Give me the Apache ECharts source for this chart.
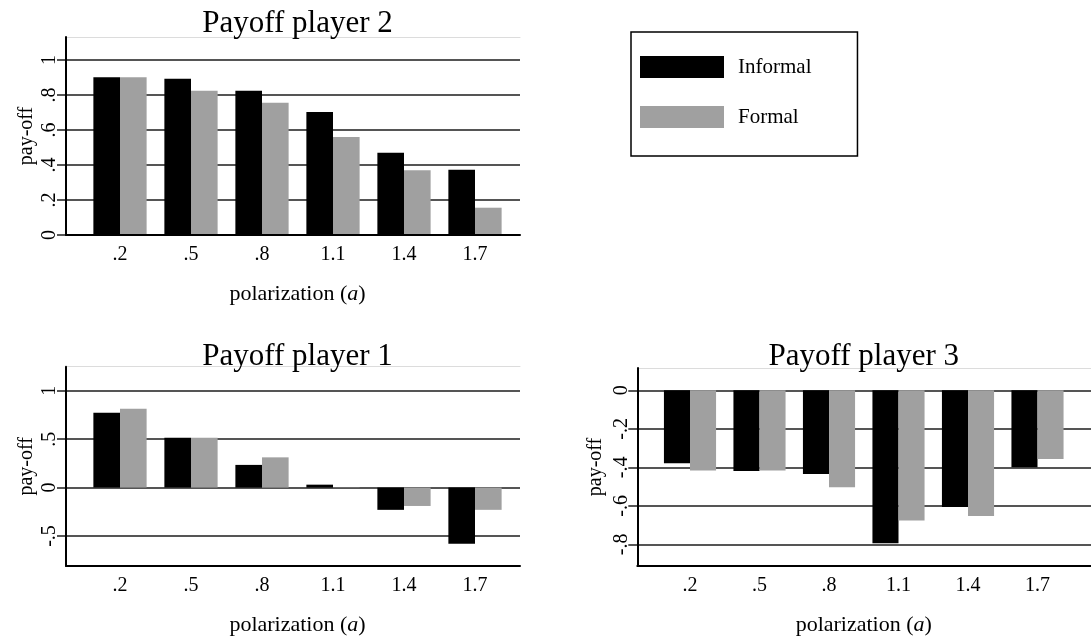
<!DOCTYPE html>
<html><head><meta charset="utf-8">
<script src="https://cdn.jsdelivr.net/npm/echarts@6/dist/echarts.min.js"></script>
<style>html,body{margin:0;padding:0;background:#fff}#c{width:1091px;height:637px}</style>
</head><body><div id="c"></div>
<script>
const categories = ['.2', '.5', '.8', '1.1', '1.4', '1.7'];
const seriesNames = ['Informal', 'Formal'];
const p2Informal = [0.901, 0.893, 0.825, 0.703, 0.470, 0.373];
const p2Formal   = [0.901, 0.825, 0.756, 0.560, 0.370, 0.156];
const p1Informal = [0.773, 0.515, 0.234, 0.030, -0.230, -0.580];
const p1Formal   = [0.814, 0.515, 0.312, 0.003, -0.190, -0.230];
const p3Informal = [-0.379, -0.419, -0.435, -0.795, -0.606, -0.400];
const p3Formal   = [-0.416, -0.416, -0.504, -0.677, -0.653, -0.357];
const p2Ticks = [0, 0.2, 0.4, 0.6, 0.8, 1];
const p1Ticks = [-0.5, 0, 0.5, 1];
const p3Ticks = [-0.8, -0.6, -0.4, -0.2, 0];
const titles = ['Payoff player 2', 'Payoff player 1', 'Payoff player 3'];

const FONT = '"Liberation Serif", "DejaVu Serif", serif';
const COLORS = ['#000000', '#a0a0a0'];

// layout (pixels)
const panels = [
  {title: titles[0], inf: p2Informal, frm: p2Formal, ticks: p2Ticks,
   oL: 66, oT: 37, oR: 520, oB: 235, tT: 60, tB: 235, bL: 84.5, bW: 426, tY: 8, cx: 297.5, ng: 29},
  {title: titles[1], inf: p1Informal, frm: p1Formal, ticks: p1Ticks,
   oL: 66, oT: 366.7, oR: 520, oB: 566, tT: 390.7, tB: 536, bL: 84.5, bW: 426, tY: 341, cx: 297.5, ng: 29},
  {title: titles[2], inf: p3Informal, frm: p3Formal, ticks: p3Ticks,
   oL: 637.3, oT: 368, oR: 1091, oB: 566, tT: 390.3, tB: 544.3, bL: 655.25, bW: 417, tY: 341, cx: 863.75, ng: 32}
];

function fmt(v) {
  const r = Math.round(v * 100) / 100;
  if (r === 0) return '0';
  return String(r).replace(/^(-?)0\./, '$1.');
}

const grid = [], xAxis = [], yAxis = [], series = [], title = [];
panels.forEach((p, i) => {
  const tMin = p.ticks[0], tMax = p.ticks[p.ticks.length - 1];
  const step = p.ticks[1] - p.ticks[0];
  const ppu = (p.tB - p.tT) / (tMax - tMin);
  const yMax = tMax + (p.tT - p.oT) / ppu;
  const yMin = tMin - (p.oB - p.tB) / ppu;
  grid.push({left: p.oL, top: p.oT, width: p.oR - p.oL, height: p.oB - p.oT, containLabel: false});
  grid.push({left: p.oL, top: p.tT, width: p.oR - p.oL, height: p.tB - p.tT, containLabel: false});
  grid.push({left: p.bL, top: p.oT, width: p.bW, height: p.oB - p.oT, containLabel: false});
  const g0 = 3 * i;
  xAxis.push({gridIndex: g0, type: 'category', data: categories, position: 'bottom', z: 5,
    axisLine: {show: true, onZero: false, lineStyle: {color: '#000', width: 2}},
    axisTick: {show: false}, axisLabel: {show: false}, splitLine: {show: false}});
  xAxis.push({gridIndex: g0, type: 'category', data: categories, position: 'top', z: 1,
    axisLine: {show: true, onZero: false, lineStyle: {color: '#dcdcdc', width: 1}},
    axisTick: {show: false}, axisLabel: {show: false}, splitLine: {show: false}});
  xAxis.push({gridIndex: g0 + 1, type: 'category', data: categories, show: false});
  xAxis.push({gridIndex: g0 + 2, type: 'category', data: categories, position: 'bottom',
    axisLine: {show: false, onZero: false}, axisTick: {show: false},
    axisLabel: {show: true, margin: 10, color: '#000', fontFamily: FONT, fontSize: 20},
    name: 'polarization ({i|a})', nameLocation: 'middle', nameGap: 48,
    nameTextStyle: {color: '#000', fontFamily: FONT, fontSize: 22,
      rich: {i: {fontStyle: 'italic', fontFamily: FONT, fontSize: 22, color: '#000'}}}});
  yAxis.push({gridIndex: g0, type: 'value', min: yMin, max: yMax, z: 5,
    axisLine: {show: true, lineStyle: {color: '#000', width: 2}},
    axisTick: {show: false}, axisLabel: {show: false}, splitLine: {show: false},
    name: 'pay-off', nameLocation: 'middle', nameRotate: 90, nameGap: p.ng,
    nameTextStyle: {color: '#000', fontFamily: FONT, fontSize: 20}});
  yAxis.push({gridIndex: g0 + 1, type: 'value', min: tMin, max: tMax, interval: step, z: 2,
    axisLine: {show: false},
    axisTick: {show: true, inside: false, length: 9, lineStyle: {color: '#555', width: 2}},
    axisLabel: {show: true, rotate: 90, margin: 6, color: '#000', fontFamily: FONT, fontSize: 20, formatter: fmt},
    splitLine: {show: true, lineStyle: {color: '#555', width: 2}}});
  yAxis.push({gridIndex: g0 + 2, type: 'value', min: yMin, max: yMax, show: false});
  [p.inf, p.frm].forEach((d, k) => {
    series.push({name: seriesNames[k], type: 'bar', xAxisIndex: 4 * i + 3, yAxisIndex: g0 + 2,
      data: d, barGap: '0%', barCategoryGap: '25%', z: 3,
      itemStyle: {color: COLORS[k]}});
  });
  title.push({text: p.title, left: p.cx, top: p.tY, textAlign: 'center', padding: 0,
    textStyle: {color: '#000', fontFamily: FONT, fontSize: 31, fontWeight: 'normal'}});
});

const chart = echarts.init(document.getElementById('c'), null, {renderer: 'canvas'});
chart.setOption({
  animation: false,
  backgroundColor: '#fff',
  title: title,
  grid: grid,
  xAxis: xAxis,
  yAxis: yAxis,
  series: series,
  legend: {
    data: seriesNames, orient: 'vertical', left: 631, top: 32, icon: 'rect',
    itemWidth: 84, itemHeight: 22, itemGap: 28,
    padding: [24, 46, 28, 9], borderColor: '#000', borderWidth: 1.5,
    selectedMode: false,
    textStyle: {color: '#000', fontFamily: FONT, fontSize: 21, padding: [0, 0, 0, 9]}
  }
});
</script></body></html>
